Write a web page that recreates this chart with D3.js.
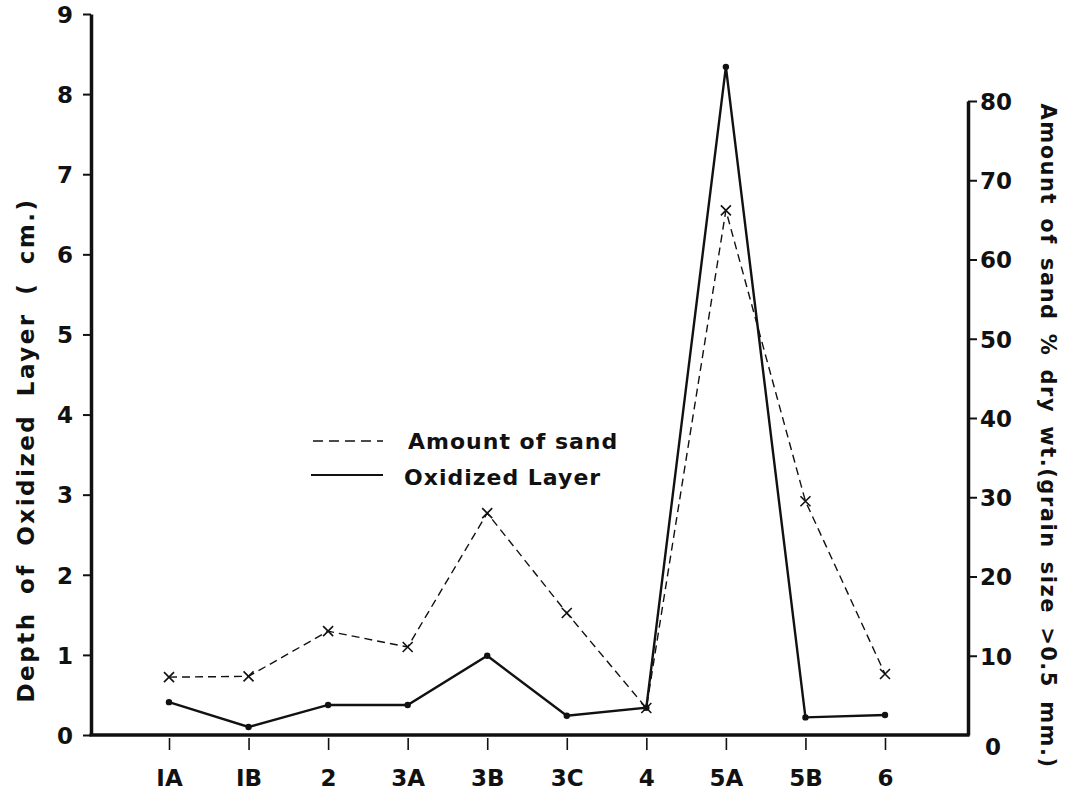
<!DOCTYPE html>
<html>
<head>
<meta charset="utf-8">
<script src="https://cdn.jsdelivr.net/npm/d3@7"></script>
<style>
  body { margin: 0; background: #fff; }
  text { font-family: "DejaVu Sans", sans-serif; font-weight: bold; fill: #111; }
</style>
</head>
<body>
<script>
// stations along the transect
var stations = ["IA", "IB", "2", "3A", "3B", "3C", "4", "5A", "5B", "6"];
// depth of oxidized layer, cm (left axis)
var oxidized = [0.41, 0.10, 0.375, 0.375, 0.99, 0.24, 0.34, 8.34, 0.22, 0.25];
// amount of sand, % dry wt (right axis)
var sand = [7.3, 7.4, 13.1, 11.1, 28.0, 15.4, 3.4, 66.2, 29.5, 7.7];
var leftTicks = [0, 1, 2, 3, 4, 5, 6, 7, 8, 9];
var rightTicks = [0, 10, 20, 30, 40, 50, 60, 70, 80];

var width = 1065, height = 791;
var left = 91, right = 968, bottom = 735;

var svg = d3.select("body").append("svg")
  .attr("width", width).attr("height", height);

var x = d3.scalePoint().domain(stations).range([169, 885]);
var yL = d3.scaleLinear().domain([0, 9]).range([bottom, 14]);
var yR = d3.scaleLinear().domain([0, 80]).range([bottom, 101]);

// stretch the gaps between words so a text spans the given length
function fitWords(t, target) {
  var natural = t.node().getComputedTextLength();
  var spaces = t.text().split(" ").length - 1;
  if (spaces > 0 && natural < target) t.attr("word-spacing", (target - natural) / spaces + "px");
}

// left axis
var gL = svg.append("g").attr("transform", "translate(" + left + ",0)")
  .call(d3.axisLeft(yL).tickValues(leftTicks).tickSize(8).tickSizeOuter(0).tickPadding(10));
gL.select(".domain").attr("stroke-width", 3.5).attr("stroke", "#111");
gL.selectAll(".tick line").attr("stroke-width", 2).attr("stroke", "#111");
gL.selectAll(".tick text").attr("font-size", "23px").attr("font-family", "DejaVu Sans")
  .attr("dy", "0.36em").attr("fill", "#111");

// right axis
var gR = svg.append("g").attr("transform", "translate(" + right + ",0)")
  .call(d3.axisRight(yR).tickValues(rightTicks).tickSize(9).tickSizeOuter(0).tickPadding(3));
gR.select(".domain").attr("stroke-width", 3.5).attr("stroke", "#111");
gR.selectAll(".tick line").attr("stroke-width", 2).attr("stroke", "#111");
gR.selectAll(".tick text").attr("font-size", "23px").attr("font-family", "DejaVu Sans")
  .attr("dy", "0.36em").attr("fill", "#111");
gR.selectAll(".tick").filter(function(d){ return d === 0; }).select("line").remove();
gR.selectAll(".tick").filter(function(d){ return d === 0; }).select("text")
  .attr("x", 17).attr("dy", "0.85em");

// bottom axis
var gB = svg.append("g").attr("transform", "translate(0," + bottom + ")")
  .call(d3.axisBottom(x).tickSize(15).tickSizeOuter(0).tickPadding(20));
gB.select(".domain").remove();
gB.selectAll(".tick line").attr("stroke-width", 1.6).attr("stroke", "#111").attr("y1", 3);
gB.selectAll(".tick text").attr("font-size", "23px").attr("font-family", "DejaVu Sans")
  .attr("fill", "#111");
svg.append("line").attr("x1", left - 1.5).attr("x2", right + 1.5)
  .attr("y1", bottom).attr("y2", bottom)
  .attr("stroke", "#111").attr("stroke-width", 3.5);

// sand line
var sandLine = d3.line().x(function(d, i){ return x(stations[i]); })
  .y(function(d){ return yR(d); });
svg.append("path").datum(sand).attr("d", sandLine)
  .attr("fill", "none").attr("stroke", "#111").attr("stroke-width", 1.4)
  .attr("stroke-dasharray", "8,5");
svg.selectAll(".xmark").data(sand).enter().append("path")
  .attr("class", "xmark")
  .attr("transform", function(d, i){ return "translate(" + x(stations[i]) + "," + yR(d) + ")"; })
  .attr("d", "M-5,-5L5,5M-5,5L5,-5")
  .attr("stroke", "#111").attr("stroke-width", 1.6).attr("fill", "none");

// oxidized line
var oxLine = d3.line().x(function(d, i){ return x(stations[i]); })
  .y(function(d){ return yL(d); });
svg.append("path").datum(oxidized).attr("d", oxLine)
  .attr("fill", "none").attr("stroke", "#111").attr("stroke-width", 2.4);
svg.selectAll(".dot").data(oxidized).enter().append("circle")
  .attr("class", "dot")
  .attr("cx", function(d, i){ return x(stations[i]); })
  .attr("cy", function(d){ return yL(d); })
  .attr("r", 3.2).attr("fill", "#111");

// legend
svg.append("line").attr("x1", 313).attr("x2", 383).attr("y1", 441).attr("y2", 441)
  .attr("stroke", "#111").attr("stroke-width", 1.6).attr("stroke-dasharray", "10,6");
var leg1 = svg.append("text").attr("x", 408).attr("y", 449).attr("font-size", "22px")
  .attr("letter-spacing", "1px").text("Amount of sand");
fitWords(leg1, 205);
svg.append("line").attr("x1", 311).attr("x2", 383).attr("y1", 475).attr("y2", 475)
  .attr("stroke", "#111").attr("stroke-width", 1.8);
var leg2 = svg.append("text").attr("x", 404).attr("y", 485).attr("font-size", "22px")
  .attr("letter-spacing", "1px").text("Oxidized Layer");
fitWords(leg2, 195);

// axis titles
var tL = svg.append("text")
  .attr("transform", "translate(34,450) rotate(-90)")
  .attr("text-anchor", "middle").attr("font-size", "23px")
  .attr("letter-spacing", "2.5px")
  .text("Depth of Oxidized Layer ( cm.)");
fitWords(tL, 505);
var tR = svg.append("text")
  .attr("transform", "translate(1041,436) rotate(90)")
  .attr("text-anchor", "middle").attr("font-size", "21px")
  .attr("letter-spacing", "1.5px")
  .text("Amount of sand % dry wt.(grain size >0.5 mm.)");
fitWords(tR, 665);
</script>
</body>
</html>
